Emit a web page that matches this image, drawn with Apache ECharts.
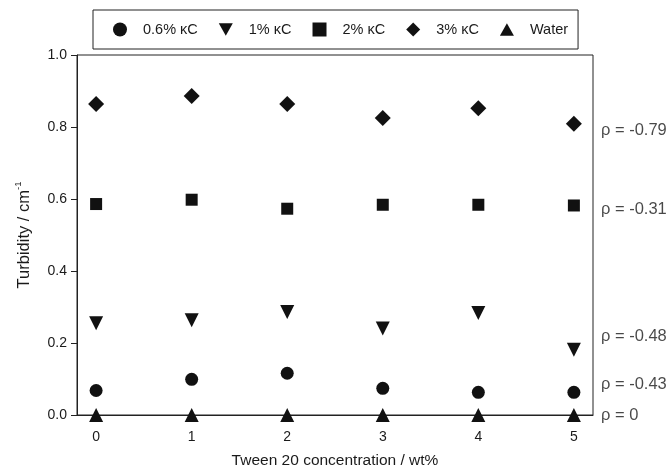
<!DOCTYPE html>
<html>
<head>
<meta charset="utf-8">
<script src="https://cdn.jsdelivr.net/npm/echarts@6/dist/echarts.min.js"></script>
<style>
  html, body { margin: 0; padding: 0; background: #fff; }
  #chart { width: 671px; height: 476px; }
</style>
</head>
<body>
<div id="chart"></div>
<script>
// Tween 20 concentration (wt%)
const tween = [0, 1, 2, 3, 4, 5];
const xTicks = [0, 1, 2, 3, 4, 5];

// Turbidity (cm^-1) for each carrageenan level
const kc06 = [0.068, 0.099, 0.116, 0.074, 0.063, 0.063];
const kc1 = [0.255, 0.263, 0.286, 0.240, 0.283, 0.181];
const kc2 = [0.586, 0.598, 0.573, 0.584, 0.584, 0.582];
const kc3 = [0.864, 0.886, 0.864, 0.825, 0.852, 0.809];
const water = [0, 0, 0, 0, 0, 0];

const seriesNames = ['0.6% κC', '1% κC', '2% κC', '3% κC', 'Water'];

// Spearman correlation notes shown beside the right frame edge
const rhoText = ['ρ = -0.79', 'ρ = -0.31', 'ρ = -0.48', 'ρ = -0.43', 'ρ = 0'];
const rhoAt = [0.79, 0.572, 0.218, 0.086, 0];

const X_MIN = -0.2, X_MAX = 5.2;
const INK = '#111';
const TEXT = '#1a1a1a';
const FONT = '"Liberation Sans", Arial, sans-serif';

const downTri = 'path://M0,0 L10,0 L5,9 Z';
const upTri = 'path://M5,0 L10,9 L0,9 Z';
const diamond = 'path://M5,0 L10,5 L5,10 L0,5 Z';
const symbols = ['circle', downTri, 'rect', diamond, upTri];
const sizes = [13, 14, 12, 16, 14];

function pts(vals) { return tween.map((x, i) => [x, vals[i]]); }

function markerSeries(idx, vals) {
  return {
    name: seriesNames[idx], type: 'scatter', data: pts(vals),
    symbol: symbols[idx], symbolSize: sizes[idx],
    clip: false, itemStyle: { color: INK, opacity: 1 }, z: 3
  };
}

const chart = echarts.init(document.getElementById('chart'), null, { renderer: 'canvas' });

chart.setOption({
  animation: false,
  textStyle: { fontFamily: FONT, color: TEXT },
  grid: {
    left: 77, right: 78, top: 55, bottom: 61,
    show: true, borderColor: '#222', borderWidth: 1, backgroundColor: 'transparent'
  },
  legend: {
    data: seriesNames.map((n, i) => ({ name: n, icon: symbols[i] })),
    left: 93, top: 10,
    padding: [12, 10, 12, 20],
    borderColor: '#222', borderWidth: 1,
    itemWidth: 14, itemHeight: 14, itemGap: 21,
    itemStyle: { opacity: 1 },
    textStyle: { fontFamily: FONT, fontSize: 14.5, color: TEXT, padding: [0, 0, 0, 11] },
    selectedMode: false
  },
  xAxis: {
    type: 'value', min: X_MIN, max: X_MAX,
    name: 'Tween 20 concentration / wt%',
    nameLocation: 'middle', nameGap: 38,
    nameTextStyle: { fontFamily: FONT, fontSize: 15.5, color: TEXT },
    axisLine: { show: true, onZero: false, lineStyle: { color: '#222', width: 1 } },
    axisTick: { show: false },
    axisLabel: {
      customValues: xTicks, margin: 15,
      fontFamily: FONT, fontSize: 14, color: TEXT
    },
    splitLine: { show: false }
  },
  yAxis: {
    type: 'value', min: 0, max: 1, interval: 0.2,
    name: '{t|Turbidity / cm}{s|-1}',
    nameLocation: 'middle', nameGap: 42,
    nameTextStyle: {
      rich: {
        t: { fontFamily: FONT, fontSize: 16.5, color: TEXT },
        s: { fontFamily: FONT, fontSize: 9.5, color: TEXT, padding: [0, 0, 12, 0] }
      }
    },
    axisLine: { show: true, onZero: false, lineStyle: { color: '#222', width: 1 } },
    axisTick: { show: true, inside: false, length: 6, lineStyle: { color: '#222' } },
    axisLabel: {
      margin: 10, fontFamily: FONT, fontSize: 14, color: TEXT,
      formatter: v => v.toFixed(1)
    },
    splitLine: { show: false }
  },
  series: [
    markerSeries(0, kc06),
    markerSeries(1, kc1),
    markerSeries(2, kc2),
    markerSeries(3, kc3),
    markerSeries(4, water),
    {
      name: 'rho', type: 'scatter', silent: true, clip: false,
      symbolSize: 0,
      data: rhoAt.map((y, i) => ({ value: [X_MAX, y], name: rhoText[i] })),
      label: {
        show: true, position: 'right', distance: 8,
        formatter: p => p.name,
        fontFamily: FONT, fontSize: 16.5, color: TEXT
      }
    }
  ]
});
</script>
</body>
</html>
